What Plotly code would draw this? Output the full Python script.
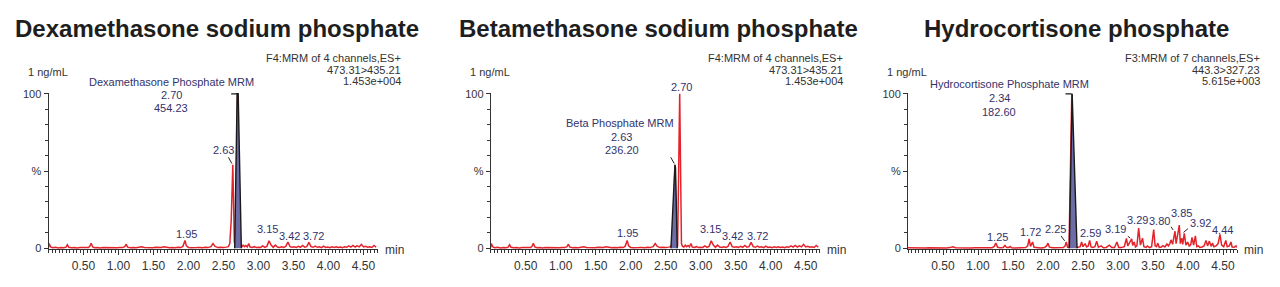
import plotly.graph_objects as go
import numpy as np

W, H = 1280, 287
FONT = "Liberation Sans, Arial, sans-serif"
RED = "#e4222a"
NAVY = "#33336b"
DARK = "#333333"

# ---------------- data ----------------
titles = ["Dexamethasone sodium phosphate", "Betamethasone sodium phosphate", "Hydrocortisone phosphate"]
conc_text = "1 ng/mL"
header_lines = [
    ["F4:MRM of 4 channels,ES+", "473.31>435.21", "1.453e+004"],
    ["F4:MRM of 4 channels,ES+", "473.31>435.21", "1.453e+004"],
    ["F3:MRM of 7 channels,ES+", "443.3>327.23", "5.615e+003"],
]
peak_names = ["Dexamethasone Phosphate MRM", "Beta Phosphate MRM", "Hydrocortisone Phosphate MRM"]
peak_rt = ["2.70", "2.63", "2.34"]
peak_area = ["454.23", "236.20", "182.60"]

x_tick_vals = [0.5, 1.0, 1.5, 2.0, 2.5, 3.0, 3.5, 4.0, 4.5]
x_tick_text = ["0.50", "1.00", "1.50", "2.00", "2.50", "3.00", "3.50", "4.00", "4.50"]
y_tick_vals = [0, 50, 100]
y_tick_text = ["0", "%", "100"]

# channel 473.31>435.21 (shared by panels 1 and 2)
t473 = [0.00, 0.01, 0.03, 0.06, 0.10, 0.14, 0.18, 0.22, 0.25, 0.27,
        0.29, 0.33, 0.37, 0.41, 0.45, 0.49, 0.53, 0.57, 0.59, 0.61,
        0.63, 0.66, 0.70, 0.74, 0.78, 0.82, 0.86, 0.90, 0.94, 0.98,
        1.02, 1.06, 1.09, 1.11, 1.13, 1.17, 1.21, 1.25, 1.29, 1.33,
        1.37, 1.41, 1.45, 1.49, 1.53, 1.57, 1.61, 1.65, 1.69, 1.73,
        1.77, 1.81, 1.85, 1.89, 1.92, 1.95, 1.97, 2.00, 2.04, 2.08,
        2.12, 2.16, 2.20, 2.24, 2.28, 2.32, 2.35, 2.38, 2.42, 2.46,
        2.50, 2.54, 2.57, 2.59, 2.61, 2.633, 2.655, 2.67, 2.70, 2.725,
        2.74, 2.76, 2.78, 2.80, 2.82, 2.84, 2.86, 2.88, 2.91, 2.94,
        2.97, 3.00, 3.03, 3.06, 3.09, 3.12, 3.15, 3.18, 3.21, 3.24,
        3.27, 3.30, 3.33, 3.36, 3.39, 3.42, 3.45, 3.48, 3.51, 3.54,
        3.57, 3.60, 3.63, 3.66, 3.69, 3.72, 3.75, 3.78, 3.81, 3.84,
        3.87, 3.90, 3.93, 3.96, 3.99, 4.02, 4.05, 4.08, 4.11, 4.14,
        4.17, 4.20, 4.23, 4.26, 4.29, 4.32, 4.35, 4.38, 4.41, 4.44,
        4.47, 4.50, 4.53, 4.56, 4.59, 4.62, 4.65, 4.68]
v473 = [0.5, 3.0, 0.8, 0.3, 0.6, 0.2, 0.5, 0.3, 0.7, 2.2,
        0.6, 0.3, 0.5, 0.2, 0.4, 0.3, 0.6, 0.4, 1.2, 3.2,
        0.8, 0.3, 0.5, 0.2, 0.4, 0.3, 0.5, 0.2, 0.4, 0.3,
        0.5, 0.4, 1.0, 2.6, 0.7, 0.3, 0.5, 0.3, 0.6, 0.9,
        0.4, 0.3, 0.5, 0.3, 0.6, 0.4, 0.5, 1.0, 0.4, 0.3,
        0.5, 0.3, 0.6, 0.4, 1.2, 5.0, 1.5, 0.5, 0.3, 0.6,
        0.4, 0.5, 0.3, 0.6, 0.4, 1.0, 3.0, 1.2, 0.4, 0.6,
        0.4, 0.7, 1.0, 3.0, 18.0, 54.0, 4.0, 1.0, 100.0, 3.0,
        1.2, 0.8, 2.0, 1.0, 1.8, 0.8, 3.0, 0.8, 0.5, 1.0,
        0.4, 0.6, 0.5, 1.5, 0.5, 1.2, 4.8, 2.0, 0.6, 2.0,
        0.8, 0.5, 1.0, 0.5, 1.2, 4.0, 1.0, 0.6, 0.9, 0.5,
        1.2, 0.6, 1.8, 0.7, 1.0, 3.8, 1.0, 0.6, 1.4, 0.6,
        0.9, 0.4, 1.3, 0.5, 0.8, 0.4, 0.9, 0.5, 1.0, 0.5,
        0.8, 0.4, 1.0, 0.6, 1.5, 0.7, 1.8, 0.8, 1.6, 0.9,
        2.5, 0.8, 1.2, 0.6, 1.0, 0.5, 1.8, 0.6]

# channel 443.3>327.23 (panel 3)
t443 = [0.00, 0.05, 0.10, 0.15, 0.20, 0.25, 0.30, 0.35, 0.40, 0.45,
        0.50, 0.55, 0.60, 0.64, 0.68, 0.72, 0.76, 0.80, 0.85, 0.90,
        0.95, 1.00, 1.05, 1.10, 1.15, 1.20, 1.23, 1.255, 1.28, 1.32,
        1.36, 1.385, 1.41, 1.44, 1.46, 1.48, 1.53, 1.58, 1.63, 1.68,
        1.71, 1.73, 1.75, 1.78, 1.80, 1.85, 1.90, 1.95, 1.98, 2.00,
        2.02, 2.07, 2.12, 2.17, 2.22, 2.245, 2.26, 2.28, 2.30, 2.34,
        2.38, 2.42, 2.46, 2.48, 2.50, 2.53, 2.55, 2.575, 2.595, 2.615,
        2.64, 2.67, 2.695, 2.72, 2.76, 2.79, 2.83, 2.876, 2.91, 2.95,
        2.985, 3.01, 3.05, 3.09, 3.12, 3.14, 3.16, 3.195, 3.21, 3.23,
        3.25, 3.27, 3.295, 3.32, 3.35, 3.37, 3.40, 3.42, 3.45, 3.48,
        3.51, 3.53, 3.55, 3.567, 3.59, 3.62, 3.64, 3.67, 3.70, 3.72,
        3.74, 3.757, 3.78, 3.80, 3.814, 3.83, 3.85, 3.876, 3.89, 3.91,
        3.925, 3.947, 3.97, 3.995, 4.02, 4.04, 4.057, 4.08, 4.105, 4.125,
        4.147, 4.17, 4.20, 4.23, 4.257, 4.28, 4.305, 4.33, 4.35, 4.37,
        4.40, 4.43, 4.457, 4.48, 4.51, 4.54, 4.56, 4.59, 4.614, 4.63,
        4.66, 4.686, 4.70]
v443 = [0.3, 0.2, 0.3, 0.2, 0.3, 0.2, 0.3, 0.2, 0.3, 0.2,
        0.3, 0.2, 0.4, 1.0, 0.3, 0.2, 0.3, 0.2, 0.3, 0.2,
        0.3, 0.2, 0.3, 0.2, 0.3, 0.3, 1.0, 3.4, 0.6, 0.3,
        0.5, 1.8, 0.4, 0.5, 1.1, 0.3, 0.2, 0.3, 0.2, 0.4,
        1.5, 6.0, 1.2, 4.0, 0.6, 0.3, 0.2, 0.4, 1.5, 3.3,
        0.7, 0.3, 0.2, 0.3, 0.4, 1.5, 4.0, 0.6, 0.5, 100.0,
        2.0, 0.5, 1.0, 4.0, 1.0, 3.0, 0.8, 1.5, 5.0, 0.8,
        0.5, 1.0, 4.5, 0.6, 1.5, 0.3, 0.5, 2.0, 0.4, 0.5,
        4.0, 0.5, 0.4, 1.0, 6.3, 1.5, 3.0, 6.0, 1.8, 4.0,
        0.8, 1.5, 13.0, 2.0, 6.5, 1.0, 0.5, 1.5, 0.4, 1.0,
        12.0, 1.5, 1.0, 3.3, 0.5, 0.8, 1.7, 0.8, 2.7, 1.5,
        3.0, 5.4, 2.5, 7.0, 11.0, 3.0, 8.0, 15.0, 3.0, 6.5,
        2.5, 9.6, 2.0, 4.0, 1.2, 2.5, 7.0, 2.0, 8.0, 1.0,
        1.5, 0.5, 0.8, 1.5, 5.0, 1.5, 4.6, 1.2, 3.3, 1.0,
        1.5, 3.0, 9.0, 2.0, 1.0, 5.0, 1.0, 1.5, 4.0, 0.8,
        0.6, 1.5, 0.5]

# integrated (shaded) peaks
pk1_t = [2.66, 2.695, 2.71, 2.755]
pk1_v = [0, 100, 100, 0]
pk2_t = [2.575, 2.632, 2.64, 2.665]
pk2_v = [0, 54, 52, 0]
pk3_t = [2.305, 2.335, 2.345, 2.415]
pk3_v = [0, 100, 100, 0]

labels1 = ["1.95", "2.63", "3.15", "3.42", "3.72"]
labels2 = ["1.95", "2.70", "3.15", "3.42", "3.72"]
labels3 = ["1.25", "1.72", "2.25", "2.59", "3.19", "3.29", "3.80", "3.85", "3.92", "4.44"]

# ---------------- layout / style ----------------
X0 = [48.5, 490.7, 908.0]      # pixel of t=0 for each panel
PXMIN = 70.0                   # pixels per minute
XR = [0, 4.7]
YR = [-0.8, 100.6]
Y0PX, Y100PX = 252.0, 92.0
pxu = (Y0PX - Y100PX) / 100.0

panels = [
    dict(t=t473, v=v473, pt=pk1_t, pv=pk1_v, labels=labels1,
         offs=[(1.5, 6.5), (-9.6, 14.6), (-1.5, 11.5), (1.5, 5.6), (4.5, 6.5)],
         leaders=[("2.63", -5, -9)],
         block=[(-65.5, 12), (-65.5, -1), (-66.5, -14.5)], bracket=True),
    dict(t=t473, v=v473, pt=pk2_t, pv=pk2_v, labels=labels2,
         offs=[(0.5, 7), (2, 7), (-1, 12), (2, 5.6), (6, 6)],
         leaders=[],
         block=[(-54.8, 41.6), (-53.8, 27.6), (-52.8, 14.6)], bracket=False,
         block_leader=(-5, -9)),
    dict(t=t443, v=v443, pt=pk3_t, pv=pk3_v, labels=labels3,
         offs=[(1.5, 5.6), (2.5, 7.4), (-10, 12.6), (0.7, 7), (-16, 10.4),
               (-1, 8), (-15, 10.4), (3.5, 12), (17.6, 10.6), (4, 4)],
         leaders=[("2.25", -5.5, -7.6), ("3.19", -5, -4), ("3.80", -4, -6), ("3.92", 7, -6)],
         block=[(-62, 10), (-72, -4.7), (-72, -18.7)], bracket=True),
]

def px(x):
    return x / W

def py(y):
    return 1 - y / H

fig = go.Figure()
annotations = []
ydom = [py(Y0PX - YR[0] * pxu), py(Y100PX - (YR[1] - 100) * pxu)]

for i, p in enumerate(panels):
    s = "" if i == 0 else str(i + 1)
    xa, ya = "x" + s, "y" + s
    # red chromatogram
    fig.add_trace(go.Scatter(x=p["t"], y=p["v"], mode="lines", xaxis=xa, yaxis=ya,
                             line=dict(color=RED, width=1.5), hoverinfo="skip", showlegend=False))
    # shaded integrated peak
    fig.add_trace(go.Scatter(x=p["pt"], y=p["pv"], mode="lines", fill="toself", xaxis=xa, yaxis=ya,
                             fillcolor="#6c6ca6", line=dict(color="#1a1a1a", width=1.4),
                             hoverinfo="skip", showlegend=False))
    ai = int(np.argmax(p["pv"]))
    apex_t, apex_v = p["pt"][ai], p["pv"][ai]
    if p["bracket"]:
        fig.add_trace(go.Scatter(x=[apex_t - 0.085, apex_t], y=[apex_v, apex_v], mode="lines",
                                 xaxis=xa, yaxis=ya, line=dict(color="#1a1a1a", width=1.3),
                                 hoverinfo="skip", showlegend=False))
    # axes
    x0 = X0[i]
    dom = [px(x0), px(x0 + PXMIN * (XR[1] - XR[0]))]
    fig.update_layout(**{
        ("xaxis" + s): dict(domain=dom, range=XR, anchor=ya, showline=True, linecolor=DARK, linewidth=1,
                            ticks="outside", ticklen=5, tickcolor=DARK, tickvals=x_tick_vals, ticktext=x_tick_text,
                            tickfont=dict(family=FONT, size=12, color=DARK), showgrid=False, zeroline=False,
                            minor=dict(tickmode="linear", tick0=0, dtick=0.05, ticks="outside", ticklen=3,
                                       tickcolor=DARK, showgrid=False), fixedrange=True),
        ("yaxis" + s): dict(domain=ydom, range=YR, anchor=xa, showline=True, linecolor=DARK, linewidth=1,
                            ticks="outside", ticklen=4, tickcolor=DARK, tickvals=y_tick_vals, ticktext=y_tick_text,
                            tickfont=dict(family=FONT, size=11, color=DARK), showgrid=False, zeroline=False,
                            minor=dict(tickmode="linear", tick0=0, dtick=10, ticks="outside", ticklen=3,
                                       tickcolor=DARK, showgrid=False), fixedrange=True),
    })
    # peak labels
    tt, vv = np.array(p["t"]), np.array(p["v"])
    for lab, (dx, dy) in zip(p["labels"], p["offs"]):
        tl = float(lab)
        h = float(vv[np.abs(tt - tl) <= 0.03].max())
        annotations.append(dict(x=tl, y=h, xref=xa, yref=ya, text=lab, showarrow=False,
                                xshift=dx, yshift=dy, xanchor="center", yanchor="middle",
                                font=dict(family=FONT, size=11, color=NAVY)))
    for lab, ax, ay in p["leaders"]:
        tl = float(lab)
        h = float(vv[np.abs(tt - tl) <= 0.03].max())
        annotations.append(dict(x=tl, y=h, xref=xa, yref=ya, text="", showarrow=True, ax=ax, ay=ay,
                                arrowhead=0, arrowwidth=1, arrowcolor="#222", standoff=1.5))
    # main peak block
    block_txt = [peak_names[i], peak_rt[i], peak_area[i]]
    for txt, (dx, dy) in zip(block_txt, p["block"]):
        annotations.append(dict(x=apex_t, y=apex_v, xref=xa, yref=ya, text=txt, showarrow=False,
                                xshift=dx, yshift=dy, xanchor="center", yanchor="middle",
                                font=dict(family=FONT, size=11, color=NAVY)))
    if "block_leader" in p:
        ax, ay = p["block_leader"]
        annotations.append(dict(x=apex_t, y=apex_v, xref=xa, yref=ya, text="", showarrow=True, ax=ax, ay=ay,
                                arrowhead=0, arrowwidth=1, arrowcolor="#222", standoff=1.5))
    # panel texts
    xend = x0 + PXMIN * (XR[1] - XR[0])
    annotations.append(dict(x=px(x0 + 168), y=py(24), xref="paper", yref="paper", text="<b>" + titles[i] + "</b>",
                            showarrow=False, xanchor="center", yanchor="middle",
                            font=dict(family=FONT, size=24, color="#1e1e1e")))
    annotations.append(dict(x=px(x0 - 23), y=py(69), xref="paper", yref="paper", text=conc_text,
                            showarrow=False, xanchor="left", yanchor="middle",
                            font=dict(family=FONT, size=11, color=DARK)))
    for k, line in enumerate(header_lines[i]):
        annotations.append(dict(x=px(xend + 25), y=py(55 + 12 * k), xref="paper", yref="paper", text=line,
                                showarrow=False, xanchor="right", yanchor="middle",
                                font=dict(family=FONT, size=11, color=DARK)))
    annotations.append(dict(x=px(xend + 5), y=py(254), xref="paper", yref="paper", text="min",
                            showarrow=False, xanchor="left", yanchor="middle",
                            font=dict(family=FONT, size=12, color=DARK)))

fig.update_layout(width=W, height=H, margin=dict(l=0, r=0, t=0, b=0), paper_bgcolor="white",
                  plot_bgcolor="white", annotations=annotations, showlegend=False)

fig.write_html("out.html", config={"displayModeBar": False})
